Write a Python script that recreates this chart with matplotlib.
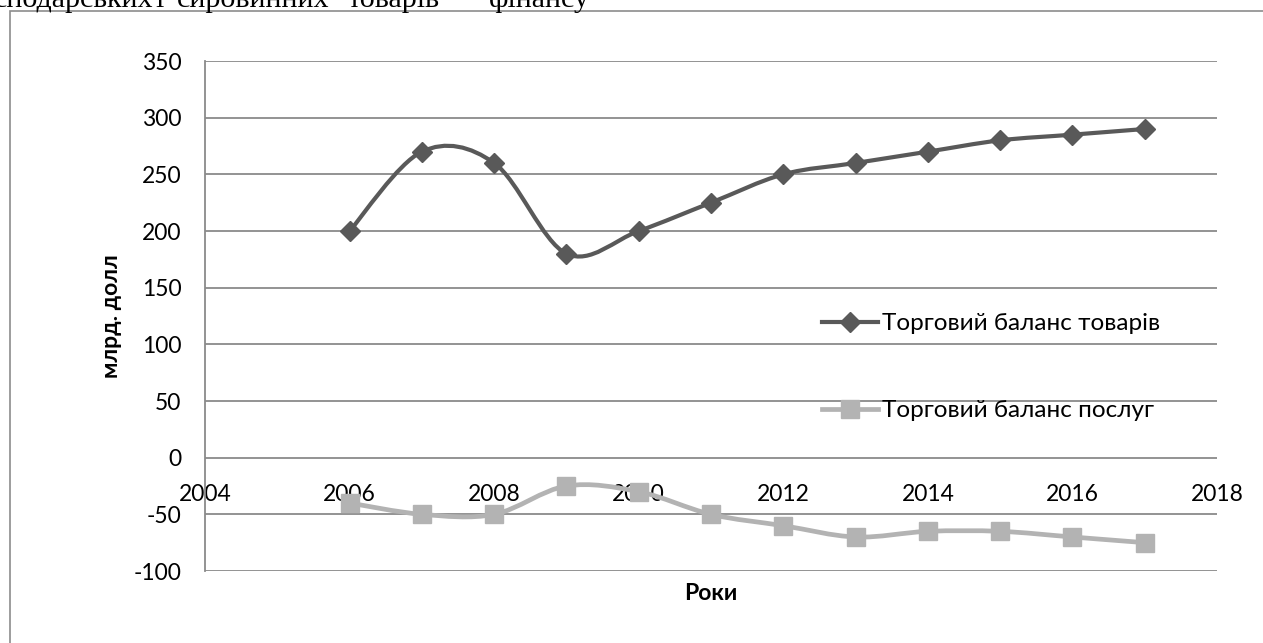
import numpy as np
import matplotlib
matplotlib.use('Agg')
import matplotlib.pyplot as plt
from matplotlib.path import Path
from matplotlib.patches import PathPatch, Rectangle
from matplotlib.lines import Line2D

# data (billion USD)
years = [2006, 2007, 2008, 2009, 2010, 2011, 2012, 2013, 2014, 2015, 2016, 2017]
goods = [200, 270, 260, 180, 200, 225, 250, 260, 270, 280, 285, 290]
services = [-40, -50, -50, -25, -30, -50, -60, -70, -65, -65, -70, -75]

goods_label = "Торговий баланс товарів"
services_label = "Торговий баланс послуг"
x_ticks = [2004, 2006, 2008, 2010, 2012, 2014, 2016, 2018]
y_ticks = [-100, -50, 0, 50, 100, 150, 200, 250, 300, 350]

# cut-off line of the document text above the chart
top_words = ["сподарських", "і", "сировинних", "товарів", "фінансу"]
top_word_x = [-6, 155, 177, 347, 489]

W, H = 1263, 643
plt.rcParams['font.family'] = ['Lato', 'Noto Sans', 'DejaVu Sans']
plt.rcParams['axes.unicode_minus'] = False

goods_col = '#595959'
serv_col = '#b3b3b3'
grid_col = '#8a8a8a'


def smooth_path(xs, ys):
    # excel-like smoothed line (cubic bezier through the points)
    pts = np.column_stack([xs, ys]).astype(float)
    n = len(pts)
    verts = [pts[0]]
    codes = [Path.MOVETO]
    for i in range(n - 1):
        p0 = pts[max(i - 1, 0)]
        p1 = pts[i]
        p2 = pts[i + 1]
        p3 = pts[min(i + 2, n - 1)]
        verts += [p1 + (p2 - p0) / 6.0, p2 - (p3 - p1) / 6.0, p2]
        codes += [Path.CURVE4] * 3
    return Path(verts, codes)


fig = plt.figure(figsize=(W / 100, H / 100), dpi=100)

# outer chart frame (right and bottom edges run off the picture)
fig.patches.append(Rectangle((9.5 / W, -0.1), 1.2, (H - 11) / H + 0.1,
                             transform=fig.transFigure, fill=False,
                             edgecolor='#8c8c8c', linewidth=1.2))

for w, x in zip(top_words, top_word_x):
    fig.text(x / W, 1 - 7 / H, w, family='Liberation Serif', fontsize=21.6,
             va='baseline', ha='left')

ax = fig.add_axes([205 / W, 1 - 571 / H, (1217 - 205) / W, (571 - 61) / H])
ax.set_xlim(2004, 2018)
ax.set_ylim(-100, 350)

#Grid
ax.set_yticks(y_ticks)
ax.yaxis.grid(True, color=grid_col, linewidth=1.3)
ax.set_axisbelow(True)
for s in ['top', 'right', 'bottom']:
    ax.spines[s].set_visible(False)
ax.spines['left'].set_color(grid_col)
ax.spines['left'].set_linewidth(1.3)

# x labels sit next to the zero line, like in excel
ax.spines['bottom'].set_position(('data', 0))
ax.set_xticks(x_ticks)
ax.set_xticklabels([str(t) for t in x_ticks])
ax.tick_params(axis='x', length=0, pad=19, labelsize=16.5)
ax.tick_params(axis='y', length=0, pad=17, labelsize=16.5)

# smoothed lines
ax.add_patch(PathPatch(smooth_path(years, goods), facecolor='none',
                       edgecolor=goods_col, linewidth=3.0, zorder=3,
                       capstyle='round'))
ax.add_patch(PathPatch(smooth_path(years, services), facecolor='none',
                       edgecolor=serv_col, linewidth=3.4, zorder=3,
                       capstyle='round'))
ax.plot(years, goods, linestyle='none', marker='D', markersize=10,
        color=goods_col, zorder=4)
ax.plot(years, services, linestyle='none', marker='s', markersize=12.5,
        color=serv_col, zorder=4)

#Hack to add legend
handles = [Line2D([0], [0], color=goods_col, linewidth=3.0, marker='D',
                  markersize=10),
           Line2D([0], [0], color=serv_col, linewidth=3.4, marker='s',
                  markersize=12.5)]
ax.legend(handles, [goods_label, services_label], frameon=False,
          loc='upper left', bbox_to_anchor=(822 / W, 1 - 313 / H),
          bbox_transform=fig.transFigure, fontsize=17.5, handlelength=2.3,
          handletextpad=0.17, labelspacing=2.72, borderpad=0,
          borderaxespad=0)

#Axis labels
fig.text(711 / W, 1 - 593 / H, "Роки", fontsize=16.5, fontweight='bold',
         ha='center', va='center')
fig.text(111 / W, 1 - 316 / H, "млрд. долл", fontsize=16.5,
         fontweight='bold', ha='center', va='center', rotation=90)

plt.savefig('out.png', dpi=100)
